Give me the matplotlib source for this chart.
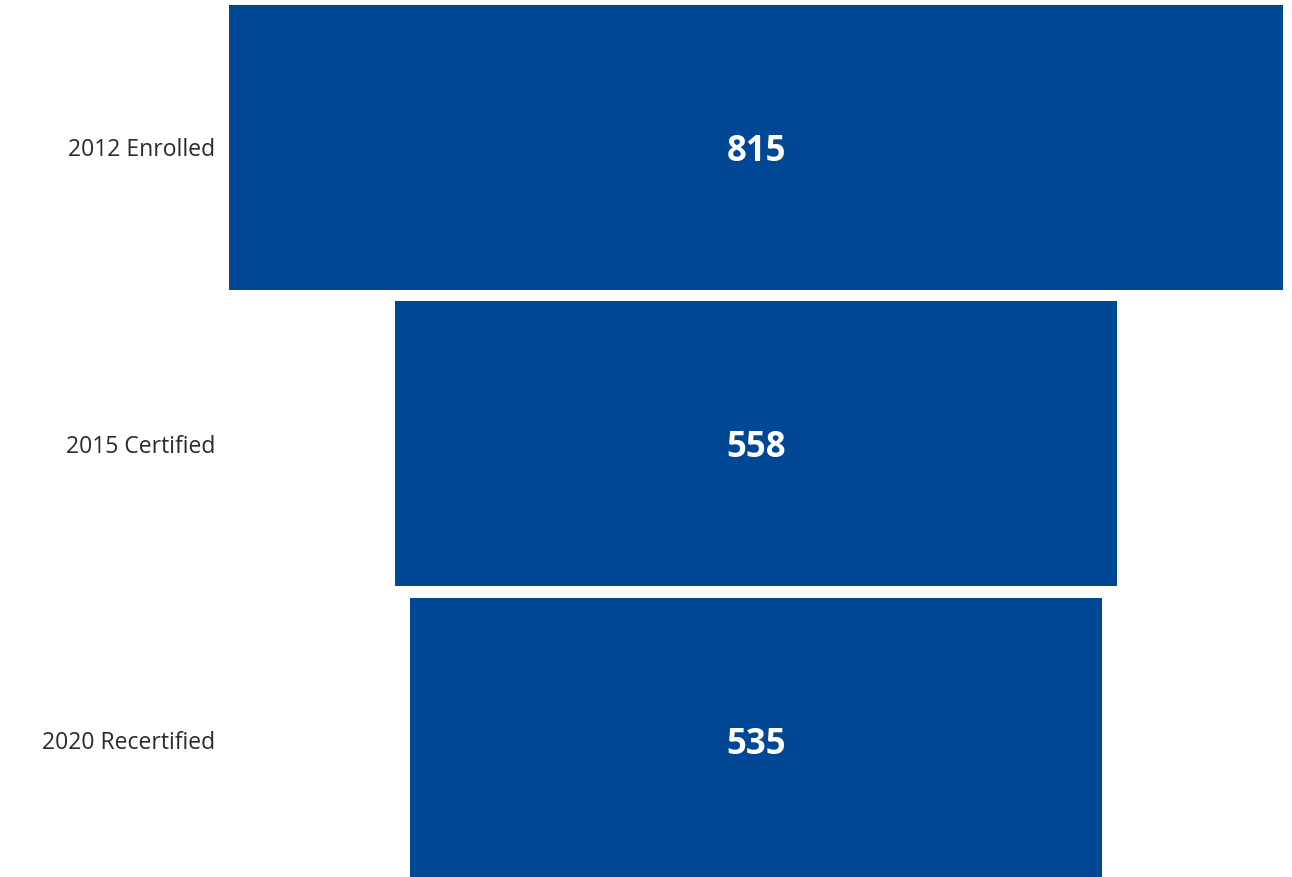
import matplotlib
matplotlib.use("Agg")
import matplotlib.pyplot as plt

stages = ["2012 Enrolled", "2015 Certified", "2020 Recertified"]
values = [815, 558, 535]

bar_color = "#004795"

fig = plt.figure(figsize=(12.92, 8.77), dpi=100)
ax = fig.add_axes([229/1292, 0, 1054/1292, 1])

ypos = list(range(len(stages)))
lefts = [-v/2 for v in values]
ax.barh(ypos, values, left=lefts, height=0.961, color=bar_color)

for y, v in zip(ypos, values):
    ax.text(0, y, f"{v}", ha="center", va="center_baseline", color="white",
            fontsize=25, fontweight="bold", family="Open Sans")

mx = max(values)
ax.set_xlim(-mx/2, mx/2)
ax.set_ylim(2.462, -0.496)
ax.set_yticks(ypos)
ax.set_yticklabels(stages, fontsize=16.5, family="Open Sans", color="#2a2a2a")
ax.tick_params(axis="y", length=0, pad=10)
ax.set_xticks([])
for s in ax.spines.values():
    s.set_visible(False)

fig.savefig("out.png", dpi=100)
